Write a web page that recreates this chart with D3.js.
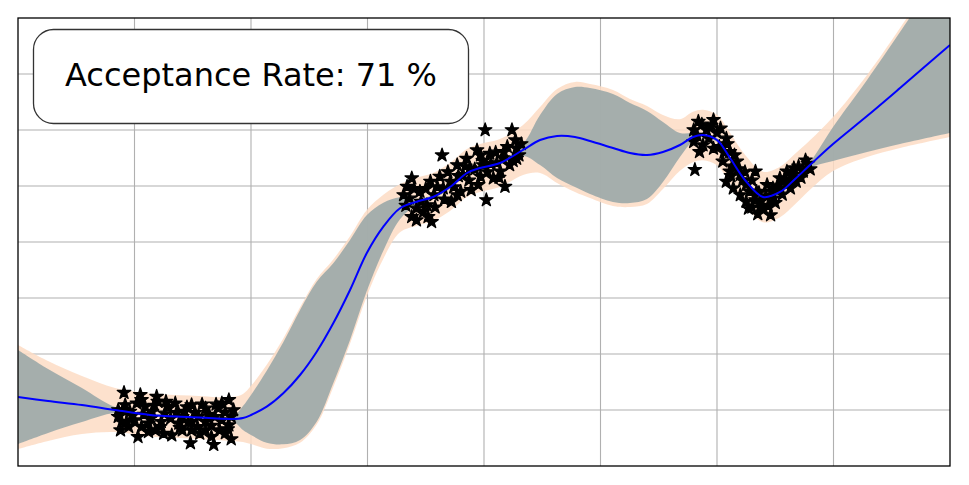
<!DOCTYPE html>
<html>
<head>
<meta charset="utf-8">
<script src="https://cdn.jsdelivr.net/npm/d3@7"></script>
<style>
  body { margin: 0; background: #fff; }
  svg { display: block; }
</style>
</head>
<body>
<svg id="chart" width="969" height="485"></svg>
<script>
// posterior fit: x positions, mean, inner (model) half width, outer (with noise) half width
const fitX = [0, 0.258, 0.549, 0.833, 1.133, 1.476, 1.837, 1.931, 2.000, 2.135, 2.277, 2.421, 2.564, 2.706,
  2.850, 2.993, 3.136, 3.279, 3.422, 3.562, 3.708, 3.854, 3.966, 4.137, 4.335, 4.481, 4.627, 4.781, 4.910,
  5.107, 5.253, 5.399, 5.536, 5.682, 5.794, 5.880, 6.000, 6.112, 6.240, 6.395, 6.541, 6.670, 6.798, 6.996,
  7.288, 7.571, 8.000]
const fitMean = [1.232, 1.161, 1.089, 1.000, 0.911, 0.875, 0.839, 0.857, 0.911, 1.059, 1.298, 1.625, 2.041, 2.548,
  3.143, 3.798, 4.273, 4.602, 4.720, 4.804, 4.982, 5.232, 5.321, 5.411, 5.643, 5.821, 5.893, 5.875, 5.804,
  5.679, 5.589, 5.554, 5.607, 5.732, 5.875, 5.911, 5.821, 5.500, 5.107, 4.804, 4.893, 5.125, 5.375, 5.750,
  6.250, 6.750, 7.518]
const innerWidth = [0.839, 0.571, 0.304, 0.054, 0.027, 0.027, 0.036, 0.214, 0.357, 0.643, 0.911, 1.161, 1.250, 1.071,
  0.893, 0.679, 0.429, 0.196, 0.054, 0.036, 0.036, 0.036, 0.036, 0.036, 0.107, 0.446, 0.750, 0.893, 0.946,
  0.964, 0.893, 0.786, 0.536, 0.214, 0.071, 0.036, 0.036, 0.036, 0.036, 0.036, 0.036, 0.036, 0.054, 0.304,
  0.643, 1.000, 1.571]
const outerWidth = [0.929, 0.714, 0.518, 0.393, 0.384, 0.384, 0.393, 0.430, 0.520, 0.750, 0.980, 1.210, 1.300, 1.140,
  0.960, 0.770, 0.570, 0.430, 0.430, 0.430, 0.430, 0.430, 0.430, 0.430, 0.446, 0.589, 0.839, 0.982, 1.018,
  1.036, 0.964, 0.875, 0.661, 0.460, 0.450, 0.450, 0.450, 0.450, 0.450, 0.450, 0.450, 0.450, 0.440, 0.482,
  0.732, 1.071, 1.643]

// observed samples (stars)
const starX = [
  0.91, 1.05, 1.19, 0.92, 1.81, 0.86, 0.88, 1.03, 1.18, 1.32, 1.48, 1.68, 1.83, 1.73, 1.61, 1.49, 1.35, 1.49,
  1.61, 1.72, 1.09, 1.26, 1.41, 1.55, 1.69, 0.89, 1.00, 1.12, 1.23, 1.38, 1.49, 1.61, 1.75, 1.83, 1.81, 0.96,
  1.15, 1.29, 1.43, 1.20, 1.06, 1.75, 0.95, 1.12, 1.41, 1.66, 1.78, 0.86, 1.85,
  0.90, 0.98, 1.02, 1.08, 1.14, 1.17, 1.22, 1.27, 1.31, 1.36, 1.39, 1.45, 1.46, 1.52, 1.54, 1.58, 1.64, 1.66,
  1.70, 1.78, 1.80, 0.93, 1.06, 1.25, 1.56,
  4.01, 4.24, 4.27, 3.64, 3.94, 4.05, 4.17, 4.28, 3.85, 3.77, 3.88, 3.99, 4.11, 4.22, 3.62, 3.71, 3.82, 3.97,
  4.08, 4.18, 4.02, 3.89, 3.72, 3.38, 3.34, 3.45, 3.57, 3.36, 3.42, 3.51, 3.42, 3.55, 3.65, 3.54, 3.31, 3.77,
  4.14, 4.28, 3.48, 3.97,
  3.33, 3.40, 3.46, 3.50, 3.58, 3.60, 3.66, 3.69, 3.74, 3.78, 3.80, 3.84, 3.87, 3.92, 3.95, 3.99, 4.03, 4.06,
  4.10, 4.13, 4.16, 4.20, 4.25, 4.30, 4.32, 3.38, 3.52,
  5.81, 5.84, 5.97, 5.80, 5.91, 6.03, 5.80, 5.88, 5.97, 6.08, 5.85, 6.11, 6.17, 6.05, 6.11, 6.20, 6.08, 6.14,
  6.25, 6.33, 6.20, 6.25, 6.34, 6.43, 6.27, 6.40, 6.46, 6.37, 6.48, 6.54, 6.60, 6.66, 6.76, 6.74, 6.68, 6.54,
  6.63, 6.48, 6.60,
  5.83, 5.87, 5.93, 5.95, 6.00, 6.02, 6.06, 6.09, 6.13, 6.15, 6.18, 6.22, 6.24, 6.28, 6.30, 6.33, 6.36, 6.38,
  6.42, 6.44, 6.47, 6.50, 6.52, 6.56, 6.58, 6.62, 6.65, 6.70, 6.72, 6.78, 6.80, 6.35, 6.30, 6.12]
const starY = [
  1.31, 1.27, 1.24, 1.09, 1.18, 0.88, 0.64, 0.52, 0.64, 0.55, 0.41, 0.38, 0.48, 0.64, 0.64, 0.64, 1.12, 1.09,
  1.03, 1.03, 1.06, 0.94, 0.88, 0.88, 0.88, 0.79, 0.82, 0.76, 0.79, 0.76, 0.79, 0.79, 0.82, 0.88, 0.73, 0.97,
  0.97, 1.06, 0.97, 1.15, 1.18, 1.12, 0.70, 0.61, 0.64, 0.52, 0.59, 1.00, 1.00,
  1.00, 0.90, 1.12, 0.92, 0.85, 1.08, 0.70, 1.15, 0.85, 0.95, 0.68, 1.05, 0.78, 0.95, 0.70, 1.10, 0.92, 0.72,
  1.10, 0.96, 0.66, 0.78, 0.70, 0.58, 0.58,
  6.00, 6.00, 5.82, 5.55, 5.64, 5.58, 5.61, 5.49, 5.49, 5.375, 5.32, 5.375, 5.41, 5.375, 5.17, 5.08, 5.20, 5.17,
  5.14, 4.99, 4.75, 4.93, 4.72, 5.14, 4.99, 4.90, 4.84, 4.78, 4.60, 4.66, 4.39, 4.36, 4.96, 5.08, 4.84, 4.84,
  5.26, 5.67, 4.54, 5.55,
  4.65, 4.95, 4.72, 4.95, 4.62, 4.98, 4.76, 5.25, 4.98, 5.18, 4.90, 5.35, 5.10, 5.30, 5.02, 5.45, 5.25, 5.40,
  5.60, 5.15, 5.50, 5.70, 5.45, 5.55, 5.75, 4.45, 4.45,
  5.29, 6.15, 6.18, 6.00, 6.00, 6.03, 5.79, 5.73, 5.67, 5.85, 5.61, 5.61, 5.44, 5.44, 5.26, 5.20, 5.08, 4.96,
  5.02, 5.26, 4.84, 4.72, 4.90, 5.02, 4.60, 4.60, 4.48, 4.72, 4.78, 5.14, 5.26, 5.32, 5.46, 5.26, 5.08, 4.96,
  4.96, 4.96, 5.05,
  5.90, 6.10, 5.85, 6.08, 5.95, 5.70, 5.60, 5.75, 5.35, 5.55, 5.30, 5.10, 5.25, 4.90, 5.10, 4.75, 4.88, 4.62,
  4.82, 4.65, 4.90, 4.70, 5.00, 4.85, 5.12, 5.10, 5.20, 5.35, 5.15, 5.40, 5.30, 4.50, 4.62, 5.18]

const gridTicks = [1, 2, 3, 4, 5, 6, 7]
const labelText = 'Acceptance Rate: 71 %'

const svg = d3.select('#chart')
const plot = { left: 18, right: 950, top: 18, bottom: 466 }

const x = d3.scaleLinear().domain([0, 8]).range([plot.left, plot.right])
const y = d3.scaleLinear().domain([0, 8]).range([plot.bottom, plot.top])

const fit = fitX.map((d, i) => ({ x: d, m: fitMean[i], s: innerWidth[i], o: outerWidth[i] }))
const stars = starX.map((d, i) => ({ x: d, y: starY[i] }))

svg.append('defs').append('clipPath').attr('id', 'clip')
  .append('rect')
  .attr('x', plot.left).attr('y', plot.top)
  .attr('width', plot.right - plot.left).attr('height', plot.bottom - plot.top)

// grid
const grid = svg.append('g').attr('stroke', '#b0b0b0').attr('stroke-width', 1.1)
grid.selectAll('.vx').data(gridTicks).join('line')
  .attr('x1', d => x(d)).attr('x2', d => x(d))
  .attr('y1', plot.top).attr('y2', plot.bottom)
grid.selectAll('.hy').data(gridTicks).join('line')
  .attr('y1', d => y(d)).attr('y2', d => y(d))
  .attr('x1', plot.left).attr('x2', plot.right)

const body = svg.append('g').attr('clip-path', 'url(#clip)')

const outerArea = d3.area()
  .x(d => x(d.x)).y0(d => y(d.m - d.o)).y1(d => y(d.m + d.o))
  .curve(d3.curveCatmullRom)
const innerArea = d3.area()
  .x(d => x(d.x)).y0(d => y(d.m - d.s)).y1(d => y(d.m + d.s))
  .curve(d3.curveCatmullRom)

body.append('path').datum(fit)
  .attr('d', outerArea)
  .attr('fill', '#fddcc4').attr('fill-opacity', 0.85)
body.append('path').datum(fit)
  .attr('d', innerArea)
  .attr('fill', '#9ba8a9').attr('fill-opacity', 0.9)

// samples
body.selectAll('.star').data(stars).join('path')
  .attr('class', 'star')
  .attr('transform', d => `translate(${x(d.x)},${y(d.y)})`)
  .attr('d', d3.symbol(d3.symbolStar, 56))
  .attr('fill', '#000').attr('stroke', '#000').attr('stroke-width', 1.3)
  .attr('stroke-linejoin', 'round')

// mean
const meanLine = d3.line().x(d => x(d.x)).y(d => y(d.m)).curve(d3.curveCatmullRom)
body.append('path').datum(fit)
  .attr('d', meanLine)
  .attr('fill', 'none').attr('stroke', '#0000ff').attr('stroke-width', 2)

// frame
svg.append('rect')
  .attr('x', plot.left).attr('y', plot.top)
  .attr('width', plot.right - plot.left).attr('height', plot.bottom - plot.top)
  .attr('fill', 'none').attr('stroke', '#000').attr('stroke-width', 1.3)

// annotation box
svg.append('rect')
  .attr('x', 33.5).attr('y', 29.5).attr('width', 435).attr('height', 94)
  .attr('rx', 20).attr('ry', 20)
  .attr('fill', '#fff').attr('stroke', '#333').attr('stroke-width', 1.3)
svg.append('text')
  .attr('x', 251).attr('y', 86)
  .attr('text-anchor', 'middle')
  .attr('font-family', 'DejaVu Sans')
  .attr('font-size', 32)
  .attr('fill', '#000')
  .text(labelText)
</script>
</body>
</html>
